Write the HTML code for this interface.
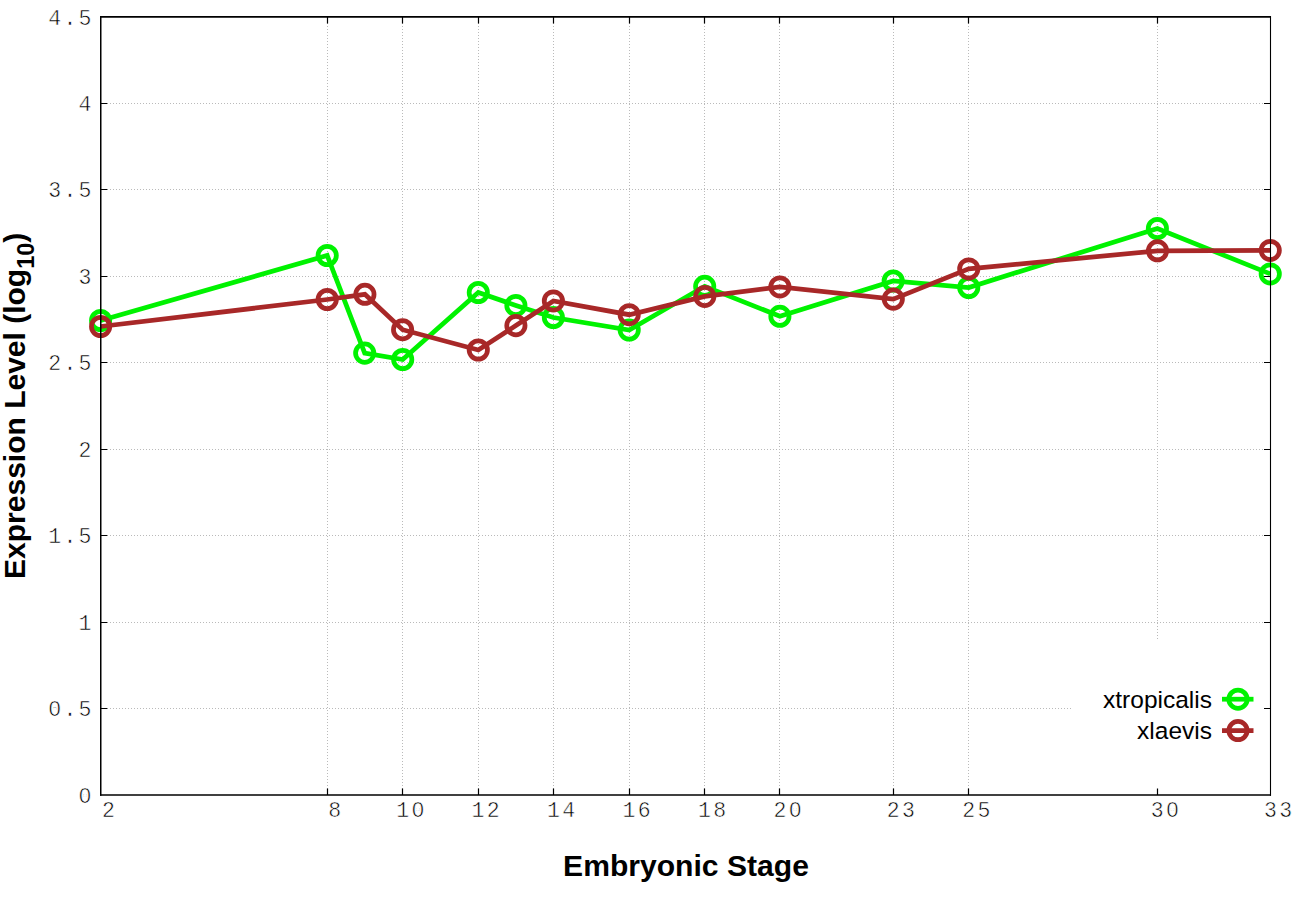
<!DOCTYPE html>
<html><head><meta charset="utf-8"><style>html,body{margin:0;padding:0;background:#fff;overflow:hidden}svg{display:block}</style></head>
<body><svg width="1296" height="907" viewBox="0 0 1296 907">
<rect x="0" y="0" width="1296" height="907" fill="#fff"/>
<path d="M327.5 17V794.0M402.5 17V794.0M478.5 17V794.0M553.5 17V794.0M629.5 17V794.0M704.5 17V794.0M779.5 17V794.0M893.5 17V794.0M968.5 17V794.0M1157.5 17V794.0M101 708.5H1269.5M101 622.5H1269.5M101 535.5H1269.5M101 449.5H1269.5M101 362.5H1269.5M101 276.5H1269.5M101 189.5H1269.5M101 103.5H1269.5" stroke="#bababa" stroke-width="1" stroke-dasharray="1 2" fill="none" shape-rendering="crispEdges"/>
<rect x="1071" y="641" width="192" height="153" fill="#fff"/>
<path d="M100.60 320.50 L327.20 255.50 L364.70 353.10 L402.70 359.50 L478.30 292.50 L515.90 305.40 L553.40 317.50 L629.20 330.00 L704.70 286.30 L779.90 316.30 L893.20 281.00 L968.75 287.50 L1157.40 228.50 L1270.25 273.90" stroke="#00f200" stroke-width="4.75" fill="none" stroke-linejoin="miter" stroke-linecap="butt"/><circle cx="100.60" cy="320.50" r="9.15" stroke="#00f200" stroke-width="4.75" fill="none"/><circle cx="327.20" cy="255.50" r="9.15" stroke="#00f200" stroke-width="4.75" fill="none"/><circle cx="364.70" cy="353.10" r="9.15" stroke="#00f200" stroke-width="4.75" fill="none"/><circle cx="402.70" cy="359.50" r="9.15" stroke="#00f200" stroke-width="4.75" fill="none"/><circle cx="478.30" cy="292.50" r="9.15" stroke="#00f200" stroke-width="4.75" fill="none"/><circle cx="515.90" cy="305.40" r="9.15" stroke="#00f200" stroke-width="4.75" fill="none"/><circle cx="553.40" cy="317.50" r="9.15" stroke="#00f200" stroke-width="4.75" fill="none"/><circle cx="629.20" cy="330.00" r="9.15" stroke="#00f200" stroke-width="4.75" fill="none"/><circle cx="704.70" cy="286.30" r="9.15" stroke="#00f200" stroke-width="4.75" fill="none"/><circle cx="779.90" cy="316.30" r="9.15" stroke="#00f200" stroke-width="4.75" fill="none"/><circle cx="893.20" cy="281.00" r="9.15" stroke="#00f200" stroke-width="4.75" fill="none"/><circle cx="968.75" cy="287.50" r="9.15" stroke="#00f200" stroke-width="4.75" fill="none"/><circle cx="1157.40" cy="228.50" r="9.15" stroke="#00f200" stroke-width="4.75" fill="none"/><circle cx="1270.25" cy="273.90" r="9.15" stroke="#00f200" stroke-width="4.75" fill="none"/>
<path d="M100.60 326.50 L327.20 299.50 L364.90 294.30 L402.60 329.70 L478.30 350.00 L515.90 325.60 L553.40 300.90 L629.20 314.70 L704.75 296.40 L779.90 286.90 L893.30 299.10 L968.75 268.90 L1157.50 250.80 L1270.25 250.40" stroke="#a82828" stroke-width="4.75" fill="none" stroke-linejoin="miter" stroke-linecap="butt"/><circle cx="100.60" cy="326.50" r="9.15" stroke="#a82828" stroke-width="4.75" fill="none"/><circle cx="327.20" cy="299.50" r="9.15" stroke="#a82828" stroke-width="4.75" fill="none"/><circle cx="364.90" cy="294.30" r="9.15" stroke="#a82828" stroke-width="4.75" fill="none"/><circle cx="402.60" cy="329.70" r="9.15" stroke="#a82828" stroke-width="4.75" fill="none"/><circle cx="478.30" cy="350.00" r="9.15" stroke="#a82828" stroke-width="4.75" fill="none"/><circle cx="515.90" cy="325.60" r="9.15" stroke="#a82828" stroke-width="4.75" fill="none"/><circle cx="553.40" cy="300.90" r="9.15" stroke="#a82828" stroke-width="4.75" fill="none"/><circle cx="629.20" cy="314.70" r="9.15" stroke="#a82828" stroke-width="4.75" fill="none"/><circle cx="704.75" cy="296.40" r="9.15" stroke="#a82828" stroke-width="4.75" fill="none"/><circle cx="779.90" cy="286.90" r="9.15" stroke="#a82828" stroke-width="4.75" fill="none"/><circle cx="893.30" cy="299.10" r="9.15" stroke="#a82828" stroke-width="4.75" fill="none"/><circle cx="968.75" cy="268.90" r="9.15" stroke="#a82828" stroke-width="4.75" fill="none"/><circle cx="1157.50" cy="250.80" r="9.15" stroke="#a82828" stroke-width="4.75" fill="none"/><circle cx="1270.25" cy="250.40" r="9.15" stroke="#a82828" stroke-width="4.75" fill="none"/>
<path d="M1222 699.2H1253.5" stroke="#00f200" stroke-width="4.75"/><circle cx="1238" cy="699.2" r="9.15" stroke="#00f200" stroke-width="4.75" fill="none"/>
<path d="M1222 730.6H1253.5" stroke="#a82828" stroke-width="4.75"/><circle cx="1238" cy="730.6" r="9.15" stroke="#a82828" stroke-width="4.75" fill="none"/>
<g font-family="Liberation Sans, sans-serif" font-size="24.5" text-anchor="end" fill="#000"><text x="1212" y="707.5">xtropicalis</text><text x="1212" y="739">xlaevis</text></g>
<path d="M327.5 795.0v-6.5M327.5 16.9v6.5M402.5 795.0v-6.5M402.5 16.9v6.5M478.5 795.0v-6.5M478.5 16.9v6.5M553.5 795.0v-6.5M553.5 16.9v6.5M629.5 795.0v-6.5M629.5 16.9v6.5M704.5 795.0v-6.5M704.5 16.9v6.5M779.5 795.0v-6.5M779.5 16.9v6.5M893.5 795.0v-6.5M893.5 16.9v6.5M968.5 795.0v-6.5M968.5 16.9v6.5M1157.5 795.0v-6.5M1157.5 16.9v6.5M100.75 708.5h6.5M1270.5 708.5h-6.5M100.75 622.5h6.5M1270.5 622.5h-6.5M100.75 535.5h6.5M1270.5 535.5h-6.5M100.75 449.5h6.5M1270.5 449.5h-6.5M100.75 362.5h6.5M1270.5 362.5h-6.5M100.75 276.5h6.5M1270.5 276.5h-6.5M100.75 189.5h6.5M1270.5 189.5h-6.5M100.75 103.5h6.5M1270.5 103.5h-6.5" stroke="#000" stroke-width="1.2" fill="none"/>
<path d="M100.0 16.9H1271.0" stroke="#000" stroke-width="1.6"/><path d="M100.0 795.0H1271.0" stroke="#000" stroke-width="1.6"/><path d="M100.75 16.099999999999998V795.8" stroke="#000" stroke-width="1.5"/><path d="M1270.5 16.099999999999998V795.8" stroke="#000" stroke-width="1.1"/>
<g font-family="Liberation Mono, monospace" font-size="21.5" letter-spacing="2.3" fill="#000" stroke="#fff" stroke-width="0.55">
<text x="93.8" y="802.6" text-anchor="end">0</text>
<text x="93.8" y="716.1" text-anchor="end">0.5</text>
<text x="93.8" y="629.7" text-anchor="end">1</text>
<text x="93.8" y="543.2" text-anchor="end">1.5</text>
<text x="93.8" y="456.8" text-anchor="end">2</text>
<text x="93.8" y="370.3" text-anchor="end">2.5</text>
<text x="93.8" y="283.9" text-anchor="end">3</text>
<text x="93.8" y="197.4" text-anchor="end">3.5</text>
<text x="93.8" y="111.0" text-anchor="end">4</text>
<text x="93.8" y="24.5" text-anchor="end">4.5</text>
<text x="109.5" y="816.5" text-anchor="middle">2</text>
<text x="335.9" y="816.5" text-anchor="middle">8</text>
<text x="411.4" y="816.5" text-anchor="middle">10</text>
<text x="486.8" y="816.5" text-anchor="middle">12</text>
<text x="562.3" y="816.5" text-anchor="middle">14</text>
<text x="637.8" y="816.5" text-anchor="middle">16</text>
<text x="713.2" y="816.5" text-anchor="middle">18</text>
<text x="788.7" y="816.5" text-anchor="middle">20</text>
<text x="901.9" y="816.5" text-anchor="middle">23</text>
<text x="977.4" y="816.5" text-anchor="middle">25</text>
<text x="1166.0" y="816.5" text-anchor="middle">30</text>
<text x="1279.2" y="816.5" text-anchor="middle">33</text>
</g>
<circle cx="85.06" cy="795.40" r="1.7" fill="#fff"/><circle cx="54.65" cy="708.94" r="1.7" fill="#fff"/><circle cx="417.84" cy="809.30" r="1.7" fill="#fff"/><circle cx="795.14" cy="809.30" r="1.7" fill="#fff"/><circle cx="1172.44" cy="809.30" r="1.7" fill="#fff"/>
<text x="686" y="875.6" font-family="Liberation Sans, sans-serif" font-weight="bold" font-size="30.1" text-anchor="middle">Embryonic Stage</text>
<text transform="translate(25,405.8) rotate(-90)" font-family="Liberation Sans, sans-serif" font-weight="bold" font-size="30" text-anchor="middle">Expression Level (log<tspan font-size="23.5" dy="9">10</tspan><tspan dy="-9">)</tspan></text>
</svg></body></html>
